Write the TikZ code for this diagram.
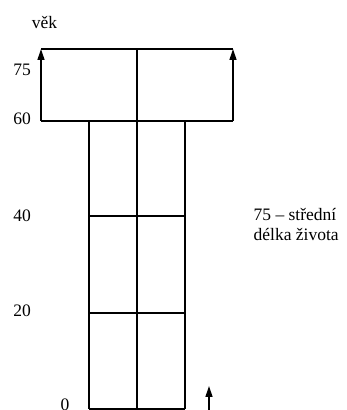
\documentclass[tikz,border=0pt]{standalone}
\usepackage{fontspec}
\setmainfont{Liberation Serif}
\usetikzlibrary{arrows.meta}
\begin{document}
\begin{tikzpicture}[x=1pt,y=1pt,line width=1.3pt,
    lbl/.style={font=\fontsize{17.5}{20}\selectfont,inner sep=0pt},
    uparrow/.style={-{Triangle[width=7pt,length=11pt]}}]
            \useasboundingbox (0,0) rectangle (346,410);
            % Corner points
            \coordinate (topL) at (41,361);
            \coordinate (topR) at (233,361);
            \coordinate (midL) at (41,289);
            \coordinate (midR) at (233,289);
            \coordinate (topC) at (137,361);
            \coordinate (botC) at (137,1);
            \coordinate (colL) at (89,289);
            \coordinate (colR) at (185,289);
            \coordinate (botL) at (89,1);
            \coordinate (botR) at (185,1);
            \coordinate (arrB) at (209,0);
            \coordinate (arrT) at (209,24);
            % Draw upper block
            \draw (midL) -- (midR);
            \draw (topL) -- (topR);
            \draw[uparrow] (midL) -- (topL);
            \draw[uparrow] (midR) -- (topR);
            % Draw columns
            \draw (topC) -- (botC);
            \draw (colL) -- (botL);
            \draw (colR) -- (botR);
            \draw (89,194) -- (185,194);
            \draw (89,97) -- (185,97);
            \draw (botL) -- (botR);
            % Small arrow
            \draw[uparrow] (arrB) -- (arrT);
            % Label values
            \node[lbl] (age) at (44.5,387) {věk};
            \node[lbl] (y75) at (22,340) {75};
            \node[lbl] (y60) at (22,291.5) {60};
            \node[lbl] (y40) at (22,194) {40};
            \node[lbl] (y20) at (22,99.5) {20};
            \node[lbl] (y0) at (65,5) {0};
            \node[lbl,anchor=base west,align=left] (note) at (253,169) {75 – střední\\délka života};
        \end{tikzpicture}
\end{document}
